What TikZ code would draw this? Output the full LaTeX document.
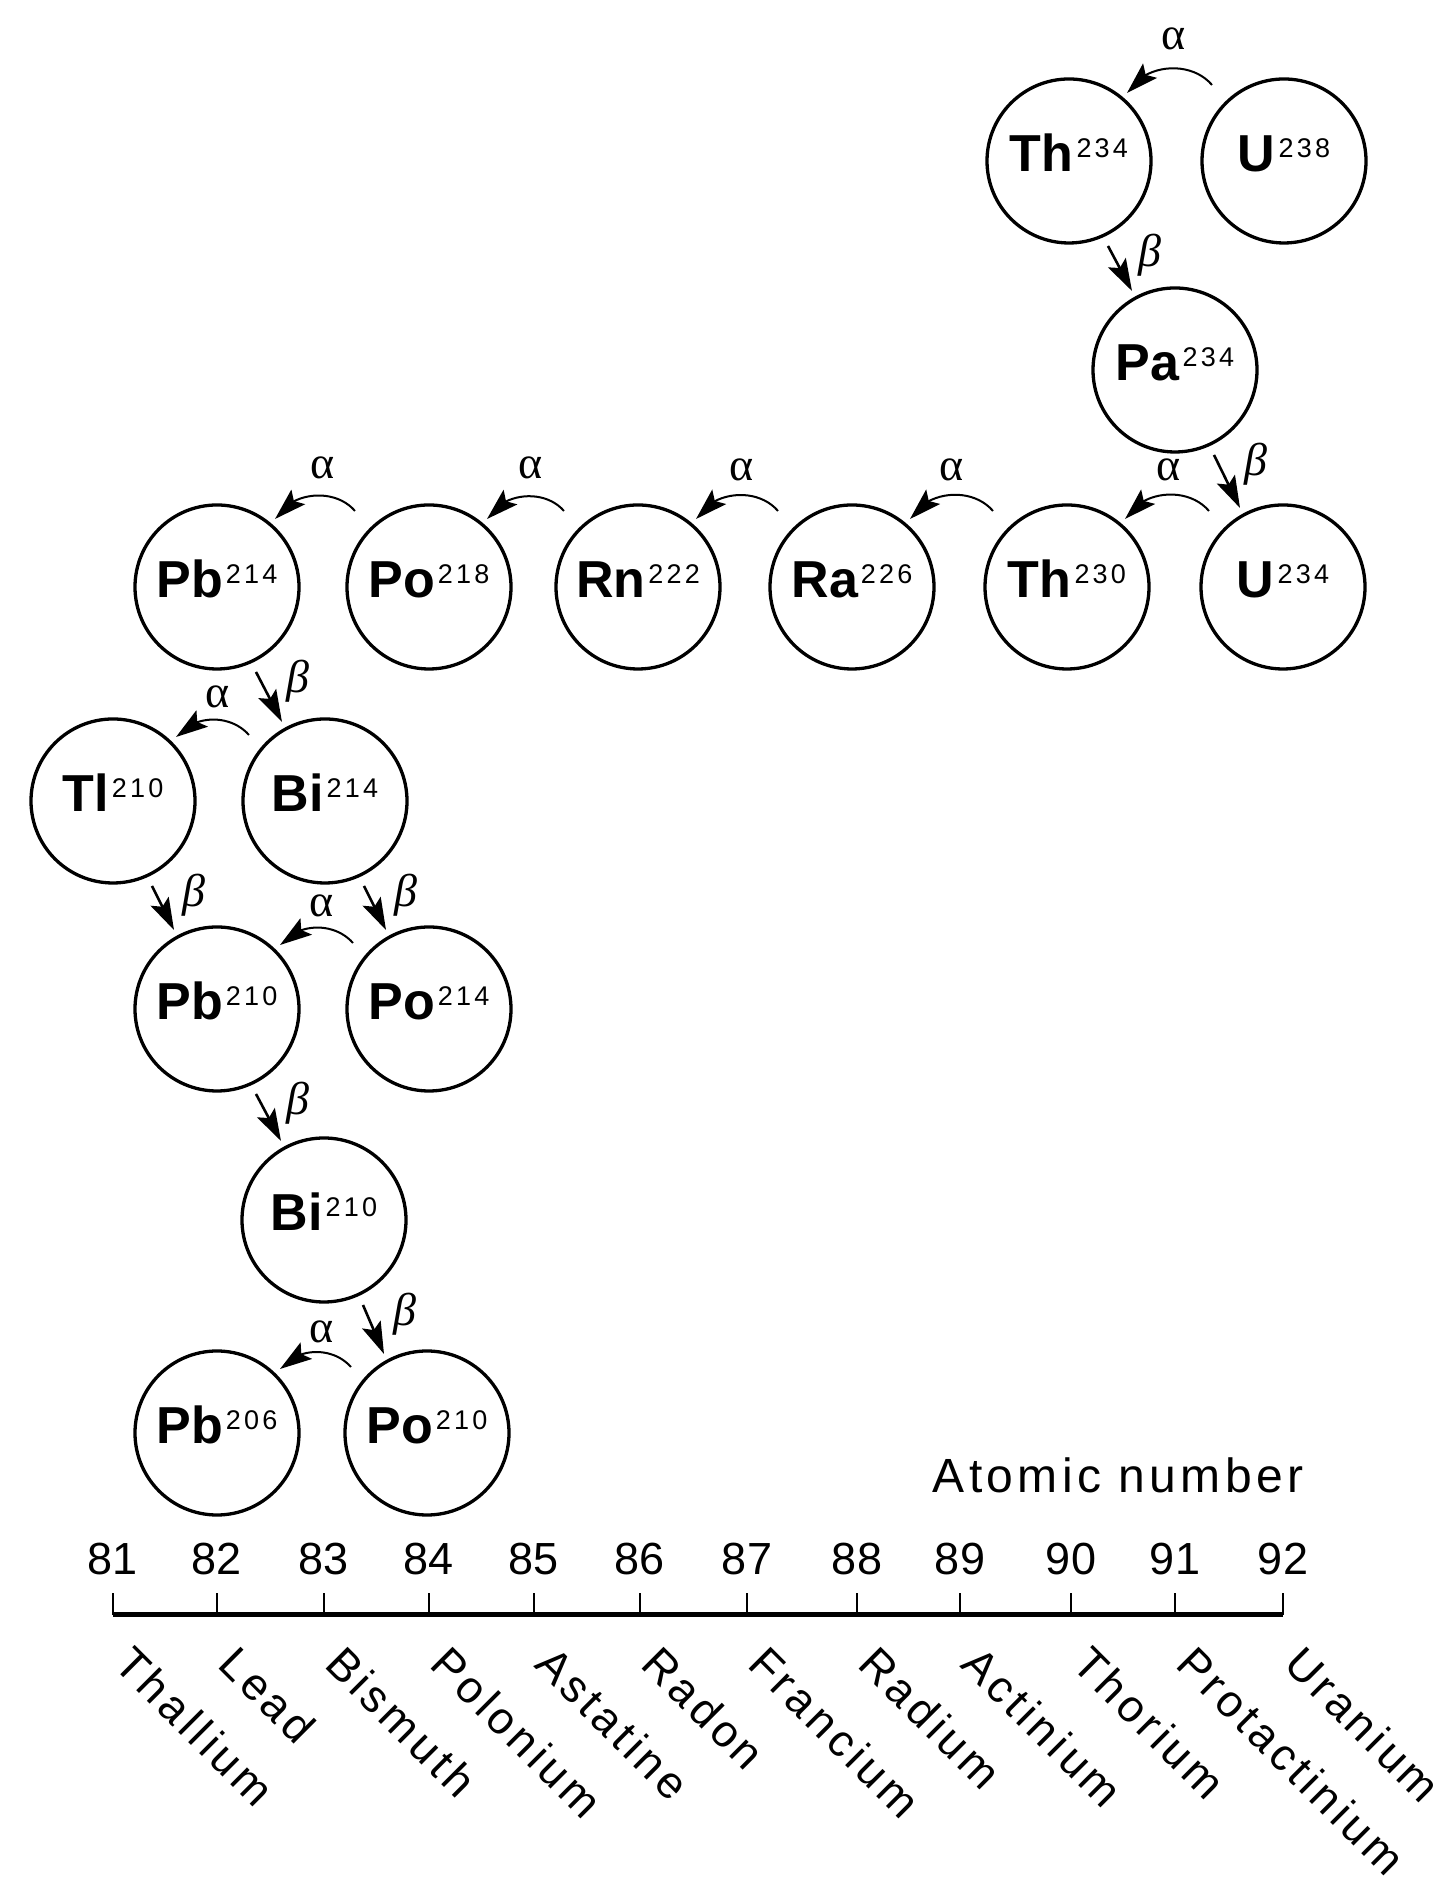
\documentclass[tikz,border=0pt]{standalone}
\usepackage{fontspec}
\usepackage{graphicx}
\setmainfont{Liberation Sans}
\newfontfamily\supf{Liberation Sans}[LetterSpace=12]
\newfontfamily\namef{Liberation Sans}[LetterSpace=10]
\newfontfamily\atf{Liberation Sans}[LetterSpace=9]
\newfontfamily\numf{Liberation Sans}
\newfontfamily\grkf{Liberation Serif}
\usetikzlibrary{arrows.meta,bending,calc}
\newcommand{\isolab}[2]{{\fontsize{52}{52}\selectfont\bfseries #1}\kern3pt\raisebox{14pt}{\supf\fontsize{27}{27}\selectfont #2}}
\begin{document}
\begin{tikzpicture}[x=1pt,y=1pt,
  iso/.style={circle,draw,line width=3.3pt,minimum size=164pt,inner sep=0pt,text height=37pt,text depth=16pt},
  aarr/.style={line width=2pt,-{Stealth[length=32pt,width=20pt,inset=6pt]}},
  barr/.style={line width=2.6pt,-{Stealth[length=32pt,width=20pt,inset=6pt]}},
  grk/.style={font=\grkf\fontsize{46}{46}\selectfont,inner sep=0pt},
  grkb/.style={font=\grkf\itshape\fontsize{46}{46}\selectfont,inner sep=0pt},
  num/.style={font=\numf\fontsize{45}{45}\selectfont,inner sep=0pt},
  elem/.style={font=\namef\fontsize{45}{45}\selectfont,rotate=-45,anchor=base west,inner sep=0pt},
  axisline/.style={line width=5pt},
  tickline/.style={line width=2.6pt}]
\useasboundingbox (0,0) rectangle (1445,1901);

% isotopes
\node[iso] (u238)  at (1284,1740) {\isolab{U}{238}};
\node[iso] (th234) at (1069,1740) {\isolab{Th}{234}};
\node[iso] (pa234) at (1175,1531) {\isolab{Pa}{234}};
\node[iso] (u234)  at (1283,1314) {\isolab{U}{234}};
\node[iso] (th230) at (1067,1314) {\isolab{Th}{230}};
\node[iso] (ra226) at (852,1314)  {\isolab{Ra}{226}};
\node[iso] (rn222) at (638,1314)  {\isolab{Rn}{222}};
\node[iso] (po218) at (429,1314)  {\isolab{Po}{218}};
\node[iso] (pb214) at (217,1314)  {\isolab{Pb}{214}};
\node[iso] (tl210) at (113,1100)  {\isolab{Tl}{210}};
\node[iso] (bi214) at (325,1100)  {\isolab{Bi}{214}};
\node[iso] (pb210) at (217,892)   {\isolab{Pb}{210}};
\node[iso] (po214) at (429,892)   {\isolab{Po}{214}};
\node[iso] (bi210) at (324,681)   {\isolab{Bi}{210}};
\node[iso] (pb206) at (217,468)   {\isolab{Pb}{206}};
\node[iso] (po210) at (427,468)   {\isolab{Po}{210}};

% alpha decays (upper rows)
\draw[aarr] ([shift={(-72,76)}]u238.center) to[bend right=55] ([shift={(58,68)}]th234.center);
\node[grk] (la1) at (1174,1862) {α};
\draw[aarr] ([shift={(-74,76)}]u234.center) to[bend right=55] ([shift={(58,68)}]th230.center);
\node[grk] (la2) at (1169,1431) {α};
\draw[aarr] ([shift={(-74,76)}]th230.center) to[bend right=55] ([shift={(58,68)}]ra226.center);
\node[grk] (la3) at (952,1431) {α};
\draw[aarr] ([shift={(-74,76)}]ra226.center) to[bend right=55] ([shift={(58,68)}]rn222.center);
\node[grk] (la4) at (742,1431) {α};
\draw[aarr] ([shift={(-74,76)}]rn222.center) to[bend right=55] ([shift={(58,68)}]po218.center);
\node[grk] (la5) at (531,1433) {α};
\draw[aarr] ([shift={(-74,76)}]po218.center) to[bend right=55] ([shift={(58,68)}]pb214.center);
\node[grk] (la6) at (323,1433) {α};
% alpha decays (lower rows)
\draw[aarr] ([shift={(-76,66)}]bi214.center) to[bend right=50] ([shift={(63,64)}]tl210.center);
\node[grk] (la7) at (218,1204) {α};
\draw[aarr] ([shift={(-76,66)}]po214.center) to[bend right=50] ([shift={(63,64)}]pb210.center);
\node[grk] (la8) at (322,995) {α};
\draw[aarr] ([shift={(-76,66)}]po210.center) to[bend right=50] ([shift={(63,64)}]pb206.center);
\node[grk] (la9) at (322,569) {α};

% beta decays
\draw[barr] ([shift={(39,-85)}]th234.center) -- ([shift={(-43,79)}]pa234.center);
\node[grkb] (lb1) at (1150,1646) {β};
\draw[barr] ([shift={(39,-85)}]pa234.center) -- ([shift={(-43,79)}]u234.center);
\node[grkb] (lb2) at (1256,1437) {β};
\draw[barr] ([shift={(39,-85)}]pb214.center) -- ([shift={(-43,79)}]bi214.center);
\node[grkb] (lb3) at (298,1220) {β};
\draw[barr] ([shift={(39,-85)}]tl210.center) -- ([shift={(-43,79)}]pb210.center);
\node[grkb] (lb4) at (194,1006) {β};
\draw[barr] ([shift={(39,-85)}]bi214.center) -- ([shift={(-43,79)}]po214.center);
\node[grkb] (lb5) at (406,1006) {β};
\draw[barr] ([shift={(39,-85)}]pb210.center) -- ([shift={(-43,79)}]bi210.center);
\node[grkb] (lb6) at (298,798) {β};
\draw[barr] ([shift={(39,-85)}]bi210.center) -- ([shift={(-43,79)}]po210.center);
\node[grkb] (lb7) at (405,587) {β};

% axis
\node[font=\atf\fontsize{48}{48}\selectfont,anchor=base,inner sep=0pt] (axt) at (1118,408) {Atomic number};
\draw[axisline] (113,286) -- (1283,286);
\foreach \z/\xx/\nm in {81/113/Thallium,82/217/Lead,83/324/Bismuth,84/429/Polonium,85/534/Astatine,86/640/Radon,87/747/Francium,88/857/Radium,89/960/Actinium,90/1071/Thorium,91/1175/Protactinium,92/1283/Uranium}{
  \draw[tickline] (\xx,286) -- (\xx,308);
  \node[num] (num\z) at (\xx,342) {\z};
  \node[elem] (el\z) at (\xx-1,235) {\nm};
}
\end{tikzpicture}
\end{document}
